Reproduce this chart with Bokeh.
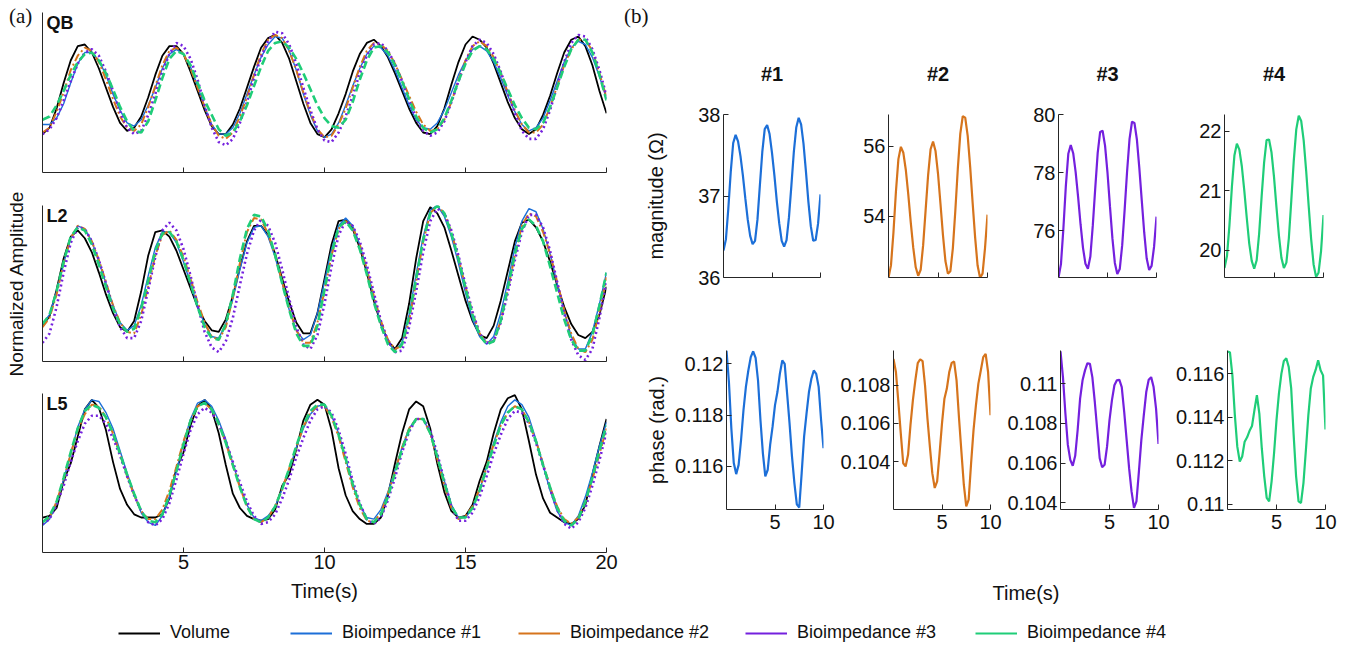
import numpy as np
from bokeh.plotting import figure
from bokeh.layouts import row, column
from bokeh.models import (Range1d, FixedTicker, Label, Legend, LegendItem, NumeralTickFormatter,
                          LinearAxis, Div)
from bokeh.embed import file_html
from bokeh.resources import INLINE

# ---------------------------------------------------------------- data
time_a = np.arange(81) * 0.25   # sample times (s), panel (a): 0..20 s
time_b = np.arange(41) * 0.25   # sample times (s), panel (b): 0..10 s

series_names = ["Volume", "Bioimpedance #1", "Bioimpedance #2", "Bioimpedance #3", "Bioimpedance #4"]
panel_a_labels = ["QB", "L2", "L5"]
panel_b_titles = ["#1", "#2", "#3", "#4"]

# panel (a): normalized amplitude (0-100 % of axis height)
qb_volume = [24,28,40,56,70,79,80,75,65,53,41,31,26,28,35,47,61,73,79,79,74,63,51,39,29,24,24,30,40,53,66,78,84,86,81,71,57,43,31,24,22,27,37,49,63,74,81,83,79,72,62,51,40,31,25,24,29,40,55,69,80,85,83,78,68,56,44,34,27,24,27,36,48,62,75,83,85,79,67,51,37]
qb_bio1 = [30,30,34,43,56,68,75,75,70,61,49,39,31,29,33,42,53,65,74,77,74,66,54,41,30,24,24,28,37,49,61,72,80,85,84,76,64,49,36,26,22,24,31,42,54,65,74,79,78,73,64,53,42,33,28,27,31,39,50,61,70,77,79,76,69,59,48,38,30,26,28,34,45,57,69,78,82,80,72,60,46]
qb_bio2 = [25,28,38,50,64,73,78,76,69,58,46,35,28,26,30,41,54,67,76,78,74,65,53,41,30,23,21,25,35,47,61,74,83,86,84,76,64,50,37,27,22,23,30,40,53,66,76,81,80,76,68,58,48,38,30,26,27,33,44,58,70,79,82,79,72,62,50,39,30,25,25,30,41,54,67,77,83,83,76,62,47]
qb_bio3 = [24,27,34,45,57,68,75,77,73,63,51,38,28,24,26,36,49,63,74,81,79,71,58,42,28,19,17,21,31,44,59,72,82,88,87,80,68,53,39,27,20,19,25,35,48,62,73,80,81,76,68,57,45,34,26,23,25,32,44,57,69,79,83,81,74,63,50,37,26,21,21,27,39,54,69,81,86,85,77,64,48]
qb_bio4 = [33,35,42,51,61,69,74,75,70,62,52,41,32,26,25,32,45,59,71,76,74,67,56,45,36,27,23,25,32,42,54,66,76,81,82,78,71,62,52,42,34,29,28,33,44,58,70,78,79,75,67,57,46,35,28,25,27,34,45,57,68,76,79,77,71,62,52,42,34,28,27,31,41,53,66,77,83,83,75,61,45]

l2_volume = [23,29,46,66,80,84,79,70,57,43,31,22,19,26,45,68,83,84,80,71,59,47,35,26,20,19,27,42,60,77,87,87,81,69,53,38,25,18,18,31,53,75,90,91,85,73,57,39,24,13,8,15,37,66,90,99,95,86,71,55,39,26,17,15,23,39,58,77,89,91,86,77,64,49,35,24,17,15,19,30,48]
l2_bio1 = [24,30,45,63,79,87,85,77,64,50,36,25,20,23,36,55,73,83,83,76,64,50,35,24,16,15,24,40,59,76,86,87,80,67,50,33,20,14,17,31,51,72,87,92,87,75,59,41,24,12,7,12,30,56,80,97,100,93,80,63,44,27,16,11,16,31,51,73,90,98,96,85,69,50,32,16,8,8,19,37,57]
l2_bio2 = [22,28,43,63,79,87,85,77,65,51,36,25,19,18,30,48,68,81,84,78,67,53,38,25,16,14,22,41,63,83,92,91,82,68,51,34,20,12,12,25,45,68,85,90,86,75,59,42,26,14,8,10,26,51,77,95,100,95,83,66,48,31,18,12,13,26,46,68,87,95,93,83,69,51,33,18,8,6,14,32,54]
l2_bio3 = [12,18,35,57,76,86,85,77,65,50,34,22,15,15,26,46,67,84,89,84,72,55,36,19,9,6,13,28,49,69,84,91,87,76,59,40,22,11,8,17,37,61,81,90,87,77,62,44,26,13,6,7,22,45,70,90,98,95,84,68,49,32,18,12,13,25,44,65,83,94,94,86,71,51,31,14,4,1,8,28,52]
l2_bio4 = [24,30,45,64,80,86,84,75,62,48,34,24,19,21,34,52,71,82,83,77,65,50,35,22,15,14,24,43,66,85,94,93,84,68,50,33,18,10,10,23,46,69,86,90,84,72,56,38,23,11,6,11,29,53,78,95,100,95,82,66,47,30,17,11,13,26,47,69,85,91,87,77,61,44,27,14,7,7,17,36,57]

l5_volume = [22,23,28,45,56,73,90,96,91,77,57,40,30,24,22,22,22,24,34,53,63,80,92,96,90,75,55,37,28,23,21,20,21,27,42,49,65,83,93,96,93,77,53,36,26,21,18,18,22,36,56,75,90,95,92,78,56,38,26,22,23,30,45,57,75,90,97,99,90,70,49,34,25,22,19,18,21,30,49,67,84]
l5_bio1 = [17,21,31,46,62,79,90,96,95,88,78,64,50,37,25,19,17,23,35,51,69,84,94,96,92,83,71,56,42,30,22,20,23,29,40,52,66,78,87,92,93,86,75,59,43,30,22,21,27,38,52,66,78,84,84,75,61,45,30,22,22,28,39,54,69,82,92,96,93,85,71,55,39,26,19,17,23,35,50,67,82]
l5_bio2 = [19,22,32,46,62,77,87,93,92,85,75,62,48,36,26,21,21,27,39,54,70,83,92,94,90,81,69,55,41,29,21,19,22,29,40,53,66,79,88,92,92,85,73,57,41,28,20,19,25,37,51,66,78,84,84,75,59,42,28,21,23,29,40,54,68,80,88,92,90,82,70,56,41,29,21,18,22,32,46,62,78]
l5_bio3 = [18,21,30,42,57,70,81,86,86,81,72,61,48,36,26,19,17,21,31,46,62,77,87,91,88,81,70,57,44,32,23,18,19,24,34,46,60,72,83,90,92,88,77,62,45,31,21,18,22,33,47,63,76,84,84,77,62,45,29,20,20,25,35,48,62,74,84,89,88,81,69,55,40,27,18,15,19,28,42,58,76]
l5_bio4 = [19,23,32,47,63,78,89,93,91,85,75,62,49,37,26,20,19,24,36,51,68,83,92,94,90,81,69,55,41,29,21,19,22,29,40,53,67,80,89,93,93,86,74,59,43,30,21,19,24,35,50,65,77,84,84,75,60,44,29,22,22,28,39,53,67,80,88,92,90,82,70,55,41,28,20,17,21,32,47,64,80]

# panel (b): magnitude (ohm)
mag_1 = [36.33,36.47,36.85,37.30,37.65,37.75,37.67,37.49,37.25,36.97,36.71,36.51,36.41,36.45,36.71,37.13,37.54,37.82,37.87,37.76,37.53,37.25,36.93,36.66,36.45,36.38,36.46,36.74,37.13,37.54,37.84,37.96,37.88,37.64,37.30,36.93,36.63,36.45,36.46,36.66,37.02]
mag_2 = [52.26,52.61,53.54,54.70,55.63,55.98,55.81,55.32,54.62,53.82,53.11,52.55,52.31,52.48,53.18,54.18,55.17,55.91,56.13,55.86,55.22,54.36,53.47,52.73,52.37,52.44,53.09,54.16,55.35,56.35,56.85,56.81,56.29,55.41,54.38,53.40,52.60,52.25,52.37,53.10,54.05]
mag_3 = [74.40,74.86,76.09,77.55,78.65,78.95,78.67,78.02,77.17,76.23,75.42,74.87,74.70,75.12,76.19,77.47,78.68,79.40,79.44,78.93,78.00,76.85,75.75,74.90,74.52,74.69,75.51,76.73,78.05,79.16,79.75,79.71,79.14,78.15,77.03,75.93,75.05,74.66,74.80,75.45,76.49]
mag_4 = [19.70,19.90,20.42,21.07,21.59,21.79,21.69,21.41,21.00,20.54,20.11,19.82,19.69,19.83,20.28,20.90,21.47,21.85,21.86,21.64,21.23,20.72,20.24,19.87,19.70,19.79,20.20,20.84,21.51,22.03,22.26,22.17,21.84,21.33,20.75,20.19,19.76,19.55,19.62,19.98,20.59]
# panel (b): phase (rad.)
phase_1 = [0.12052,0.11929,0.11748,0.11613,0.11570,0.11606,0.11703,0.11819,0.11910,0.11974,0.12026,0.12049,0.12023,0.11935,0.11781,0.11652,0.11561,0.11587,0.11684,0.11755,0.11839,0.11890,0.11961,0.12013,0.12000,0.11884,0.11768,0.11639,0.11535,0.11452,0.11440,0.11574,0.11716,0.11806,0.11890,0.11942,0.11974,0.11961,0.11910,0.11781,0.11671]
phase_2 = [0.10939,0.10870,0.10713,0.10548,0.10391,0.10374,0.10435,0.10591,0.10722,0.10826,0.10917,0.10937,0.10927,0.10800,0.10626,0.10478,0.10339,0.10261,0.10296,0.10443,0.10600,0.10730,0.10783,0.10870,0.10918,0.10925,0.10826,0.10631,0.10452,0.10278,0.10165,0.10200,0.10391,0.10565,0.10696,0.10809,0.10878,0.10948,0.10965,0.10870,0.10643]
phase_3 = [0.11163,0.11033,0.10850,0.10692,0.10617,0.10587,0.10637,0.10767,0.10925,0.11017,0.11067,0.11103,0.11100,0.11033,0.10908,0.10767,0.10625,0.10580,0.10592,0.10683,0.10817,0.10917,0.10992,0.11017,0.11020,0.10983,0.10858,0.10717,0.10575,0.10458,0.10375,0.10408,0.10558,0.10717,0.10842,0.10958,0.11020,0.11033,0.10983,0.10875,0.10697]
phase_4 = [0.11703,0.11697,0.11592,0.11410,0.11265,0.11197,0.11220,0.11288,0.11308,0.11338,0.11360,0.11433,0.11501,0.11417,0.11258,0.11129,0.11030,0.11014,0.11106,0.11235,0.11387,0.11509,0.11600,0.11658,0.11670,0.11630,0.11532,0.11319,0.11129,0.11014,0.11007,0.11098,0.11250,0.11410,0.11532,0.11585,0.11618,0.11661,0.11615,0.11592,0.11344]

mag_ranges = [(36.0, 38.0), (52.26, 56.9), (74.4, 80.0), (19.54, 22.28)]
mag_ticks = [[36, 37, 38], [54, 56], [76, 78, 80], [20, 21, 22]]
phase_ranges = [(0.11432, 0.12052), (0.10148, 0.10983), (0.10367, 0.11167), (0.10977, 0.11706)]
phase_ticks = [[0.116, 0.118, 0.12], [0.104, 0.106, 0.108], [0.104, 0.106, 0.108, 0.11], [0.11, 0.112, 0.114, 0.116]]
x_ticks_a = [5, 10, 15, 20]
x_ticks_b = [5, 10]

# ---------------------------------------------------------------- styles
FONT = "Liberation Sans"
AX = "#262626"
TXT = "#111111"
colors = ["#000000", "#1c6fd8", "#d6741c", "#7420de", "#1fcd78"]
widths = [1.8, 1.4, 2.0, 2.6, 2.6]
dashes = ["solid", "solid", "8 3 2 3", "2 3", "8 4"]


def base_style(p):
    p.grid.visible = False
    p.outline_line_color = None
    p.background_fill_color = "white"
    p.border_fill_color = "white"
    for ax in p.axis:
        ax.axis_line_color = AX
        ax.axis_line_width = 1
        ax.major_tick_line_color = AX
        ax.major_tick_in = 5
        ax.major_tick_out = 0
        ax.minor_tick_line_color = None
        ax.major_label_text_font = FONT
        ax.major_label_text_font_size = "20px"
        ax.major_label_text_color = TXT
        ax.axis_label_text_font = FONT
        ax.axis_label_text_font_style = "normal"
        ax.axis_label_text_font_size = "20px"
        ax.axis_label_text_color = TXT


def panel_tag(text, width, height, left, top):
    return Div(text=('<div style="font-family:\'Liberation Serif\';font-size:21px;color:#111;'
                     'line-height:22px;margin:%dpx 0 0 %dpx;white-space:nowrap">%s</div>') % (top, left, text),
               width=width, height=height, margin=0)


# ---------------------------------------------------------------- panel (a)
WA = 618


def make_a(tag, data, width, height, b_left, b_top, b_bottom, show_x):
    p = figure(width=width, height=height, x_range=Range1d(0, 20), y_range=Range1d(0, 100),
               output_backend="svg", toolbar_location=None, title=None,
               min_border_left=b_left, min_border_right=12, min_border_top=b_top, min_border_bottom=b_bottom)
    for ys, c, w, d in zip(data, colors, widths, dashes):
        p.line(time_a, ys, line_color=c, line_width=w, line_dash=d)
    base_style(p)
    p.xaxis.ticker = FixedTicker(ticks=x_ticks_a)
    p.yaxis.ticker = FixedTicker(ticks=[])
    p.yaxis.major_label_standoff = 0
    p.xaxis.major_label_standoff = 2
    if not show_x:
        p.xaxis.major_label_overrides = {t: "" for t in x_ticks_a}
    p.add_layout(Label(x=0, y=100, text=tag, x_offset=4, text_baseline="top", text_align="left",
                       text_font=FONT, text_font_size="18px", text_font_style="bold", text_color=TXT))
    return p


qb = make_a(panel_a_labels[0], [qb_volume, qb_bio1, qb_bio2, qb_bio3, qb_bio4], WA - 40, 180, 2, 12, 8, False)
l2 = make_a(panel_a_labels[1], [l2_volume, l2_bio1, l2_bio2, l2_bio3, l2_bio4], WA, 205, 42, 25, 24, False)
l5 = make_a(panel_a_labels[2], [l5_volume, l5_bio1, l5_bio2, l5_bio3, l5_bio4], WA, 227, 42, 8, 60, True)
l2.yaxis.axis_label = "Normalized Amplitude"
l2.yaxis.axis_label_text_font_size = "19px"
l2.yaxis.axis_label_standoff = 16
l5.xaxis.axis_label = "Time(s)"
l5.xaxis.axis_label_standoff = 8

tag_a = panel_tag("(a)", 40, 180, 9, 5)
col_a = column(row(tag_a, qb), l2, l5)


# ---------------------------------------------------------------- panel (b)
def make_b(ys, color, yr, yticks, width, height, bl, br, bt, bb, show_x, fmt=None, title=None):
    p = figure(width=width, height=height, x_range=Range1d(0, 10), y_range=Range1d(*yr),
               output_backend="svg", toolbar_location=None, title=None,
               min_border_left=bl, min_border_right=br, min_border_top=bt, min_border_bottom=bb)
    p.line(time_b, ys, line_color=color, line_width=2.2)
    if title is not None:
        tax = LinearAxis(axis_label=title, ticker=FixedTicker(ticks=[]))
        p.add_layout(tax, "above")
    base_style(p)
    p.xaxis.ticker = FixedTicker(ticks=x_ticks_b)
    p.yaxis.ticker = FixedTicker(ticks=yticks)
    p.yaxis.major_label_standoff = 3
    p.xaxis.major_label_standoff = 5
    if fmt is not None:
        p.yaxis.formatter = fmt
    if not show_x:
        p.below[0].major_label_overrides = {t: "" for t in x_ticks_b}
    if title is not None:
        tax.ticker = FixedTicker(ticks=[])
        tax.axis_line_color = None
        tax.major_tick_line_color = None
        tax.major_label_standoff = 0
        tax.axis_label_standoff = 30
        tax.axis_label_text_font_style = "bold"
    return p


mags = [mag_1, mag_2, mag_3, mag_4]
phases = [phase_1, phase_2, phase_3, phase_4]
top_geom = [(237, 105, 35), (170, 33, 38), (167, 33, 36), (160, 32, 29)]
bot_geom = [(217, 108, 12), (168, 58, 13), (168, 57, 13), (181, 56, 27)]

top_figs = []
for i in range(4):
    w, bl, br = top_geom[i]
    top_figs.append(make_b(mags[i], colors[i + 1], mag_ranges[i], mag_ticks[i], w, 260, bl, br, 74, 23,
                           False, title=panel_b_titles[i]))
bot_figs = []
fmt = NumeralTickFormatter(format="0.[000]")
for i in range(4):
    w, bl, br = bot_geom[i]
    bot_figs.append(make_b(phases[i], colors[i + 1], phase_ranges[i], phase_ticks[i], w, 240, bl, br, 50, 31,
                           True, fmt=fmt))

top_figs[0].yaxis.axis_label = "magnitude (\u03a9)"
top_figs[0].yaxis.axis_label_standoff = 28
bot_figs[0].yaxis.axis_label = "phase (rad.)"
bot_figs[0].yaxis.axis_label_standoff = 4

# shared x label of panel (b)
tfig = figure(width=734, height=72, x_range=Range1d(0, 10), y_range=Range1d(0, 1),
              output_backend="svg", toolbar_location=None, title=None, y_axis_location=None,
              min_border_left=108, min_border_right=27, min_border_top=0, min_border_bottom=44)
base_style(tfig)
tfig.xaxis.ticker = FixedTicker(ticks=[])
tfig.xaxis.axis_line_color = None
tfig.xaxis.major_label_standoff = 0
tfig.xaxis.axis_label = "Time(s)"
tfig.xaxis.axis_label_standoff = 13

tag_b = panel_tag("(b)", 734, 40, 6, 5)
col_b = column(tag_b, row(*top_figs), row(*bot_figs), tfig)

# ---------------------------------------------------------------- legend
leg = figure(width=1352, height=34, x_range=Range1d(0, 1), y_range=Range1d(0, 1),
             output_backend="svg", toolbar_location=None, title=None,
             x_axis_location=None, y_axis_location=None, min_border=0)
leg.grid.visible = False
leg.outline_line_color = None
legend_x = [118, 290, 518, 745, 975]
for name, c, lx in zip(series_names, colors, legend_x):
    r = leg.line([np.nan, np.nan], [np.nan, np.nan], line_color=c, line_width=2)
    lg = Legend(items=[LegendItem(label=name, renderers=[r])], location=(lx, 3),
                orientation="horizontal", padding=0, margin=0, spacing=0,
                border_line_color=None, background_fill_alpha=0,
                glyph_width=42, glyph_height=20, label_standoff=10,
                label_text_font=FONT, label_text_font_size="18px", label_text_color=TXT)
    leg.add_layout(lg)

layout = column(row(col_a, col_b), leg)

open("out.html", "w").write(file_html(layout, INLINE))
